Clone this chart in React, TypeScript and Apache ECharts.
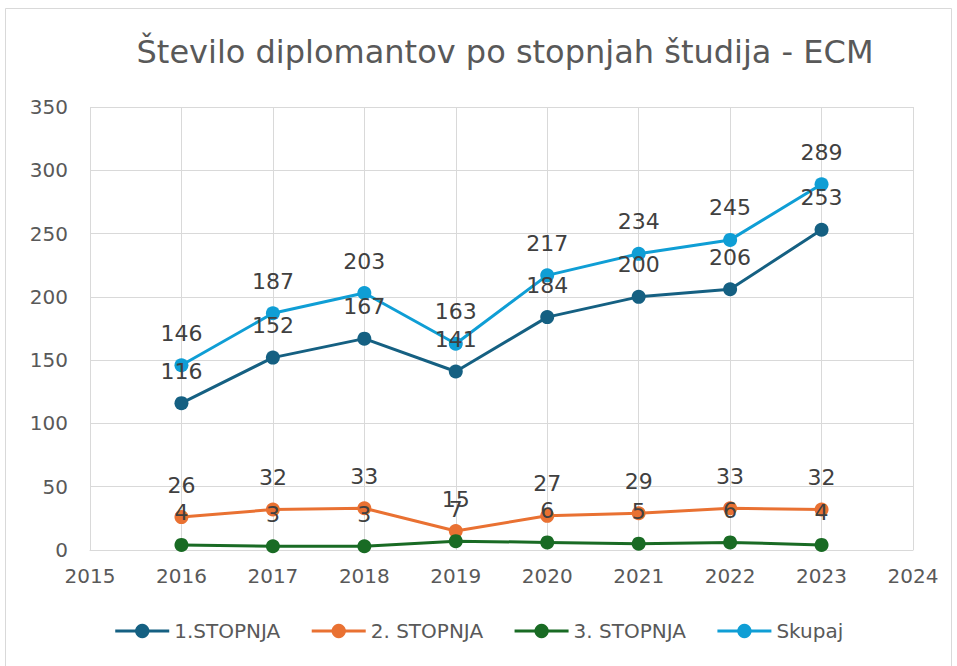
import React, { useEffect, useRef } from "react";
import * as echarts from "echarts";

const years = [2016, 2017, 2018, 2019, 2020, 2021, 2022, 2023];
const stopnja1 = [116, 152, 167, 141, 184, 200, 206, 253];
const stopnja2 = [26, 32, 33, 15, 27, 29, 33, 32];
const stopnja3 = [4, 3, 3, 7, 6, 5, 6, 4];
const skupaj = [146, 187, 203, 163, 217, 234, 245, 289];
const seriesNames = ["1.STOPNJA", "2. STOPNJA", "3. STOPNJA", "Skupaj"];
const colors = ["#156082", "#E97132", "#196B24", "#0F9ED5"];

const FONT = "'DejaVu Sans', sans-serif";

export default function App() {
  const ref = useRef<HTMLDivElement>(null);
  useEffect(() => {
    if (!ref.current) return;
    const chart = echarts.init(ref.current, undefined, { renderer: "svg" });
    const all = [stopnja1, stopnja2, stopnja3, skupaj];
    chart.setOption({
      animation: false,
      backgroundColor: "#ffffff",
      title: {
        text: "Število diplomantov po stopnjah študija - ECM",
        left: 500,
        textAlign: "center",
        top: 31,
        textStyle: { fontFamily: FONT, fontSize: 32, fontWeight: "normal", color: "#595959" },
      },
      graphic: [
        {
          type: "rect",
          shape: { x: 5.5, y: 8.5, width: 946, height: 680 },
          style: { fill: "none", stroke: "#d9d9d9", lineWidth: 1 },
          silent: true,
        },
      ],
      legend: {
        bottom: 20,
        left: "center",
        itemWidth: 54,
        itemHeight: 18,
        itemGap: 30,
        lineStyle: { width: 3 },
        textStyle: { fontFamily: FONT, fontSize: 20, color: "#595959" },
        data: seriesNames,
      },
      grid: { left: 90, right: 44, top: 107, bottom: 116, containLabel: false },
      xAxis: {
        type: "value",
        min: 2015,
        max: 2024,
        interval: 1,
        axisLine: { show: true, lineStyle: { color: "#d9d9d9", width: 1 } },
        axisTick: { show: false },
        splitLine: { show: true, lineStyle: { color: "#d9d9d9", width: 1 } },
        axisLabel: {
          fontFamily: FONT,
          fontSize: 20,
          color: "#595959",
          margin: 16,
          formatter: (v: number) => String(v),
        },
      },
      yAxis: {
        type: "value",
        min: 0,
        max: 350,
        interval: 50,
        axisLine: { show: false },
        axisTick: { show: false },
        splitLine: { show: true, lineStyle: { color: "#d9d9d9", width: 1 } },
        axisLabel: { fontFamily: FONT, fontSize: 20, color: "#595959", margin: 22 },
      },
      series: seriesNames.map((name, i) => ({
        name,
        type: "line",
        data: years.map((y, j) => [y, all[i][j]]),
        symbol: "circle",
        symbolSize: 14,
        lineStyle: { color: colors[i], width: 3 },
        itemStyle: { color: colors[i] },
        label: {
          show: true,
          position: "top",
          distance: 14,
          fontFamily: FONT,
          fontSize: 22,
          color: "#404040",
        },
      })),
    });
    return () => chart.dispose();
  }, []);
  return (
    <div
      ref={ref}
      style={{ position: "absolute", left: 0, top: 0, width: 957, height: 666 }}
    />
  );
}
